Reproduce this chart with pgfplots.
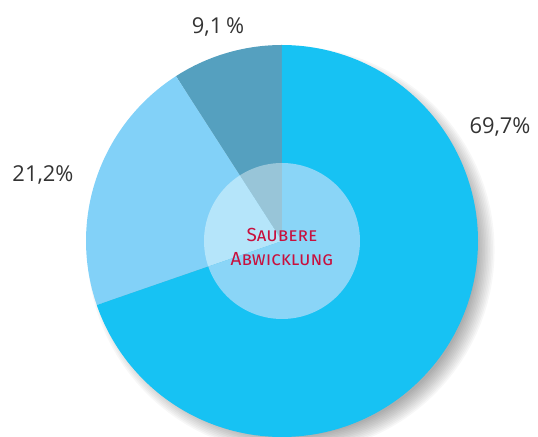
\documentclass[border=0pt]{standalone}
\usepackage{pgfplots}
\pgfplotsset{compat=1.18}
\usepackage{fontspec}
\setmainfont{Fira Sans}
\newfontfamily\lab{Open Sans}
\definecolor{sBig}{HTML}{17C2F3}
\definecolor{sMid}{HTML}{82D1F8}
\definecolor{sSmall}{HTML}{55A0BF}
\definecolor{iBig}{HTML}{8AD5F7}
\definecolor{iMid}{HTML}{B5E5FA}
\definecolor{iSmall}{HTML}{98C5D8}
\definecolor{txtred}{HTML}{C8103E}
\definecolor{txtgrey}{HTML}{333333}

% shares in percent, counter-clockwise from 12 o'clock
\def\vSmall{9.1}
\def\vMid{21.2}
\def\vBig{69.7}
\pgfmathsetmacro\aA{90}
\pgfmathsetmacro\aB{\aA+\vSmall*3.6}
\pgfmathsetmacro\aC{\aB+\vMid*3.6}
\pgfmathsetmacro\aD{\aC+\vBig*3.6}

\def\cx{282}
\def\cy{-241}
\def\R{196}
\def\r{78}

\begin{document}
\begin{tikzpicture}
\begin{axis}[
  width=538bp, height=437bp, scale only axis,
  xmin=0, xmax=538, ymin=-437, ymax=0,
  hide axis, clip=true,
]
% soft shadow, lower right
\pgfplotsinvokeforeach{0,...,11}{
  \addplot[draw=none, fill=black, fill opacity=0.03, domain=0:360, samples=120]
    ({\cx+9+(\R-10+#1*1.6)*cos(x)}, {\cy-9+(\R-10+#1*1.6)*sin(x)}) -- cycle;
}
% slices
\addplot[draw=none, fill=sSmall, domain=\aA:\aB, samples=40]
  ({\cx+\R*cos(x)}, {\cy+\R*sin(x)}) -- (axis cs:\cx,\cy) -- cycle;
\addplot[draw=none, fill=sMid, domain=\aB:\aC, samples=60]
  ({\cx+\R*cos(x)}, {\cy+\R*sin(x)}) -- (axis cs:\cx,\cy) -- cycle;
\addplot[draw=none, fill=sBig, domain=\aC:\aD, samples=160]
  ({\cx+\R*cos(x)}, {\cy+\R*sin(x)}) -- (axis cs:\cx,\cy) -- cycle;
% lighter centre
\addplot[draw=none, fill=iSmall, domain=\aA:\aB, samples=20]
  ({\cx+\r*cos(x)}, {\cy+\r*sin(x)}) -- (axis cs:\cx,\cy) -- cycle;
\addplot[draw=none, fill=iMid, domain=\aB:\aC, samples=40]
  ({\cx+\r*cos(x)}, {\cy+\r*sin(x)}) -- (axis cs:\cx,\cy) -- cycle;
\addplot[draw=none, fill=iBig, domain=\aC:\aD, samples=100]
  ({\cx+\r*cos(x)}, {\cy+\r*sin(x)}) -- (axis cs:\cx,\cy) -- cycle;

\node[font=\fontsize{19}{24}\selectfont\scshape, text=txtred, align=center]
  at (axis cs:\cx,-247) {Saubere\\Abwicklung};
\node[font=\fontsize{22}{26}\selectfont\lab, text=txtgrey] at (axis cs:218,-27) {9,1\,\%};
\node[font=\fontsize{22}{26}\selectfont\lab, text=txtgrey] at (axis cs:500,-127) {69,7\%};
\node[font=\fontsize{22}{26}\selectfont\lab, text=txtgrey] at (axis cs:43,-175) {21,2\%};
\end{axis}
\pgfresetboundingbox
\path (current axis.south west) rectangle (current axis.north east);
\end{tikzpicture}
\end{document}
